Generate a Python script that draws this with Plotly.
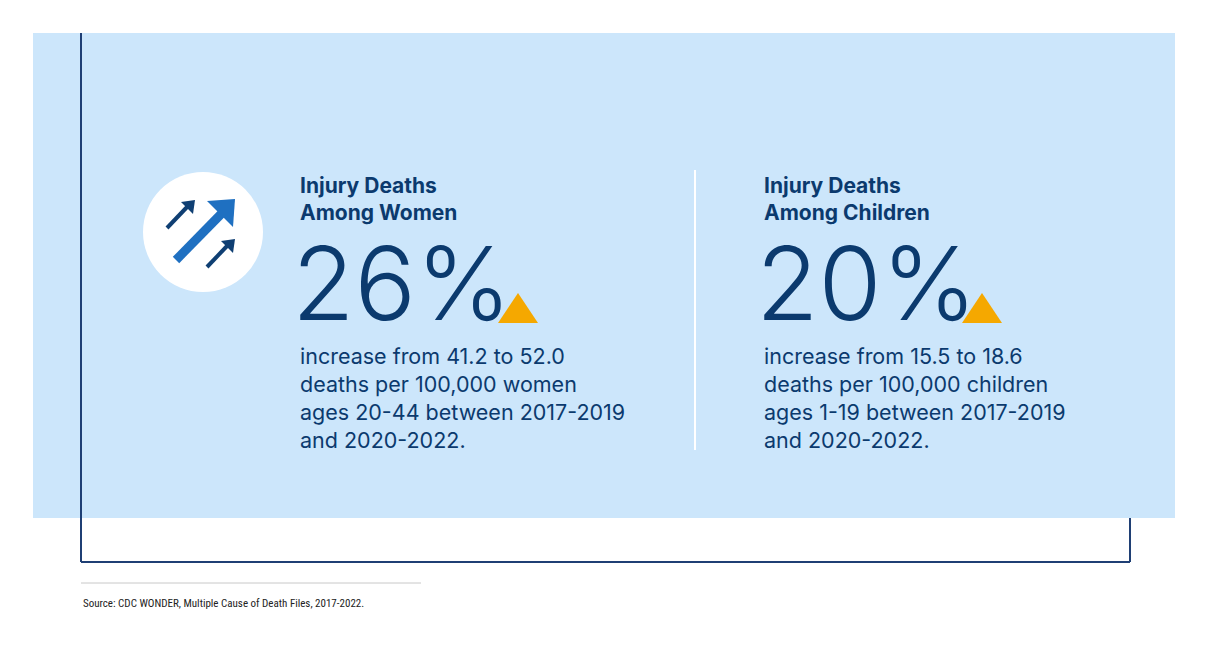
import plotly.graph_objects as go

groups = ["Women", "Children"]
pct_increase = [26, 20]
rate_from = [41.2, 15.5]
rate_to = [52.0, 18.6]
population = ["women", "children"]
ages = ["20-44", "1-19"]
periods = ["2017-2019", "2020-2022"]
source = "Source: CDC WONDER, Multiple Cause of Death Files, 2017-2022."

W, H = 1207, 653
OFF = 8  # page margin offset
NAVY = "#0b3a6e"
FONT = "Inter"

fig = go.Figure()
fig.add_trace(go.Scatter(x=[0, W], y=[0, H], mode="markers",
                         marker=dict(opacity=0), hoverinfo="skip", showlegend=False))

shapes = [
    dict(type="rect", x0=33, x1=1175, y0=33, y1=518, fillcolor="#cce6fb", line_width=0, layer="below"),
    dict(type="line", x0=81, x1=81, y0=33, y1=562, line=dict(color="#1f3f74", width=2)),
    dict(type="line", x0=81, x1=1130, y0=562, y1=562, line=dict(color="#1f3f74", width=2)),
    dict(type="line", x0=1130, x1=1130, y0=518, y1=562, line=dict(color="#1f3f74", width=2)),
    dict(type="line", x0=81, x1=421, y0=583, y1=583, line=dict(color="#c8c8c8", width=1)),
    dict(type="line", x0=695, x1=695, y0=170, y1=450, line=dict(color="white", width=2)),
    # icon
    dict(type="circle", x0=143, x1=263, y0=172, y1=292, fillcolor="white", line_width=0),
    dict(type="line", x0=176, x1=228, y0=260, y1=207, line=dict(color="#1f70c1", width=9)),
    dict(type="path", path="M 207 201 L 235 199 L 233 227 Z", fillcolor="#1f70c1", line_width=0),
    dict(type="line", x0=167, x1=188, y0=228, y1=206, line=dict(color="#0f3f73", width=4)),
    dict(type="path", path="M 181 202 L 195 200 L 193 214 Z", fillcolor="#0f3f73", line_width=0),
    dict(type="line", x0=207, x1=228, y0=267, y1=245, line=dict(color="#0f3f73", width=4)),
    dict(type="path", path="M 221 241 L 235 239 L 233 253 Z", fillcolor="#0f3f73", line_width=0),
]

annotations = []
for i, g in enumerate(groups):
    x = 298 if i == 0 else 762
    annotations.append(dict(x=x, y=199, text=f"<b>Injury Deaths<br>Among {g}</b>",
                            font=dict(family=FONT, size=21, color=NAVY), align="left"))
    annotations.append(dict(x=x - 8, y=283, text=f"{pct_increase[i]}%",
                            font=dict(family=FONT, size=102, color=NAVY, weight=300)))
    tx = x + 200
    shapes.append(dict(type="path", path=f"M {tx} 323 L {tx + 40} 323 L {tx + 20} 293 Z",
                       fillcolor="#f5a800", line_width=0))
    body = (f"increase from {rate_from[i]} to {rate_to[i]:.1f}<br>"
            f"deaths per 100,000 {population[i]}<br>"
            f"ages {ages[i]} between {periods[0]}<br>and {periods[1]}.")
    annotations.append(dict(x=x, y=398, text=body, align="left",
                            font=dict(family=FONT, size=21.5, color=NAVY)))
annotations.append(dict(x=81, y=603, text=source,
                        font=dict(family="Liberation Sans Narrow, Roboto Condensed, Roboto", size=11, color="#222")))
for a in annotations:
    a.update(xref="x", yref="y", showarrow=False, xanchor="left", yanchor="middle")

fig.update_layout(
    width=W, height=H, margin=dict(l=0, r=0, t=0, b=0),
    paper_bgcolor="white", plot_bgcolor="white",
    xaxis=dict(range=[OFF, W + OFF], visible=False, fixedrange=True),
    yaxis=dict(range=[H + OFF, OFF], visible=False, fixedrange=True),
    shapes=shapes, annotations=annotations, showlegend=False,
)
fig.write_html("out.html")
